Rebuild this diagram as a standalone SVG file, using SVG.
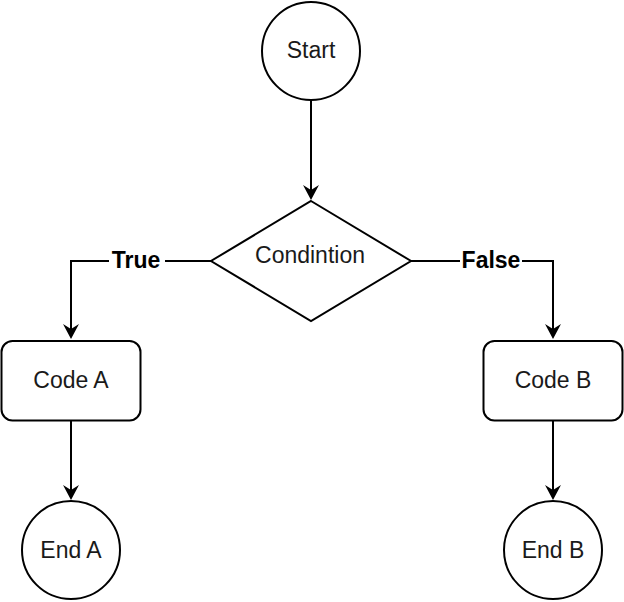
<svg xmlns="http://www.w3.org/2000/svg" width="624" height="602" viewBox="0 0 624 602">
<defs>
<style>
.shape{fill:#ffffff;stroke:#000000;stroke-width:2}
.lbl{font-family:"Liberation Sans",Arial,Helvetica,sans-serif;font-size:23px;fill:#1a1a1a;text-anchor:middle}
.edge{fill:none;stroke:#000000;stroke-width:2}
.elbl{font-family:"Liberation Sans",Arial,Helvetica,sans-serif;font-size:23px;font-weight:bold;fill:#000000;text-anchor:middle}
</style>
<marker id="arrow" markerUnits="userSpaceOnUse" viewBox="-16 -9 17 18" refX="-10" refY="0" markerWidth="17" markerHeight="18" orient="auto">
<path d="M0,0 L-15,-8 L-10,0 L-15,8 Z" fill="#000000"/>
</marker>
</defs>
<rect width="624" height="602" fill="#ffffff"/>
<g id="connectors">
<path class="edge" d="M311,101 L311,190" marker-end="url(#arrow)"/>
<path class="edge" d="M211,261 L71,261 L71,329" marker-end="url(#arrow)"/>
<path class="edge" d="M411,261 L553,261 L553,329" marker-end="url(#arrow)"/>
<path class="edge" d="M71,421 L71,490" marker-end="url(#arrow)"/>
<path class="edge" d="M553,421 L553,490" marker-end="url(#arrow)"/>
<rect x="109" y="249" width="56" height="24" fill="#ffffff"/>
<text class="elbl" x="136" y="268">True</text>
<rect x="460" y="249" width="62" height="24" fill="#ffffff"/>
<text class="elbl" x="491" y="268">False</text>
</g>
<g id="start">
<circle class="shape" cx="311" cy="51" r="49"/>
<text class="lbl" x="311" y="58">Start</text>
</g>
<g id="condition">
<polygon class="shape" points="311,201 411,261 311,321 211,261"/>
<text class="lbl" x="310" y="263">Condintion</text>
</g>
<g id="codeA">
<rect class="shape" x="1.5" y="341" width="139" height="79.5" rx="11" ry="11"/>
<text class="lbl" x="71" y="388">Code A</text>
</g>
<g id="codeB">
<rect class="shape" x="483.5" y="341" width="139" height="79.5" rx="11" ry="11"/>
<text class="lbl" x="553" y="388">Code B</text>
</g>
<g id="endA">
<circle class="shape" cx="71" cy="550" r="49"/>
<text class="lbl" x="71" y="558">End A</text>
</g>
<g id="endB">
<circle class="shape" cx="553" cy="550" r="49"/>
<text class="lbl" x="553" y="558">End B</text>
</g>
</svg>
